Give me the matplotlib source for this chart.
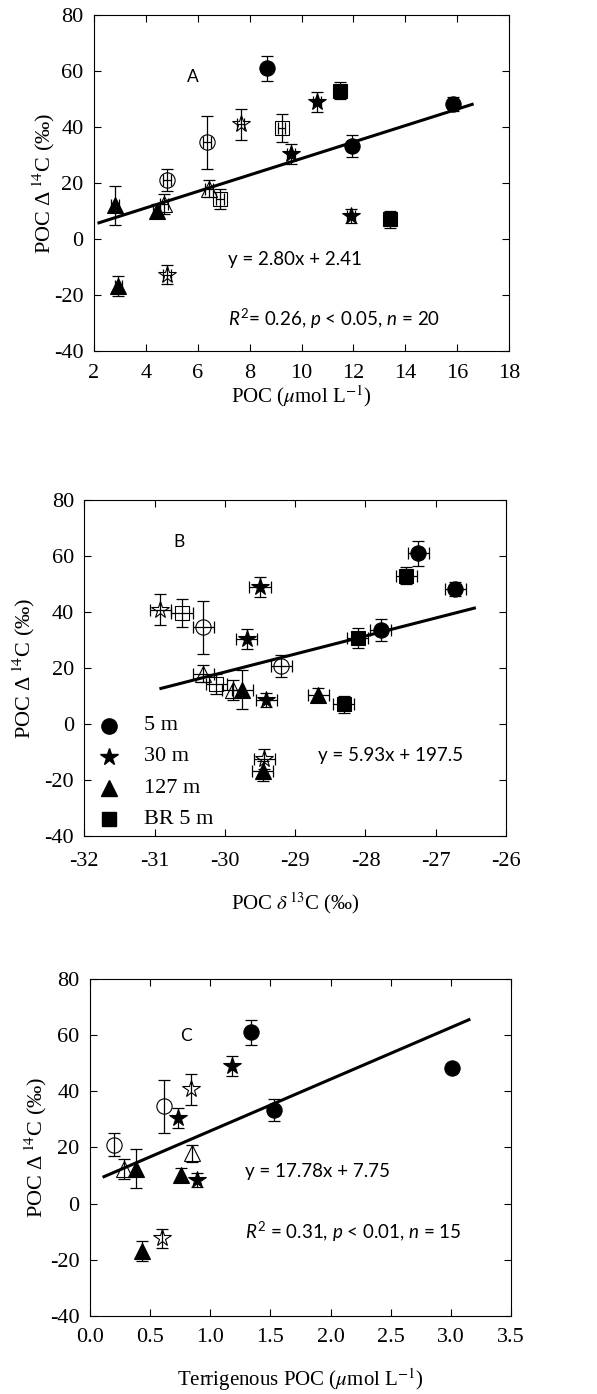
import matplotlib
matplotlib.use("Agg")
import matplotlib.pyplot as plt
from matplotlib.ticker import MultipleLocator, FormatStrFormatter

plt.rcParams['font.family'] = ['Liberation Serif', 'DejaVu Serif']
plt.rcParams['mathtext.fontset'] = 'custom'
plt.rcParams['mathtext.rm'] = 'Lato'
plt.rcParams['mathtext.it'] = 'Lato:italic'
plt.rcParams['axes.unicode_minus'] = False

# group styles: (marker, filled)
markers = {"5m": "o", "5m_o": "o", "30m": "*", "30m_o": "*",
           "127m": "^", "127m_o": "^", "BR": "s", "BR_o": "s"}
msizes = {"o": 11, "*": 13, "^": 11, "s": 10}

# Panel A: POC (umol/L) vs D14C
a_x = {"5m": [8.66, 11.96, 15.86], "5m_o": [6.36, 4.8],
       "30m": [10.61, 9.59, 11.9], "30m_o": [7.65, 4.8],
       "127m": [2.81, 4.41, 2.94], "127m_o": [4.7, 6.44],
       "BR": [11.47, 13.4], "BR_o": [9.23, 6.85]}
a_y = {"5m": [61, 33.3, 48.1], "5m_o": [34.5, 21],
       "30m": [49, 30.3, 8.3], "30m_o": [41, -12.7],
       "127m": [12, 10.1, -16.8], "127m_o": [12.5, 18],
       "BR": [53, 7.1], "BR_o": [39.7, 14.3]}
a_yerr = {"5m": [4.5, 4, 2.5], "5m_o": [9.5, 4],
          "30m": [3.5, 3.5, 2.5], "30m_o": [5.5, 3.5],
          "127m": [7, 2.5, 3.5], "127m_o": [3.5, 3],
          "BR": [3, 3], "BR_o": [5, 3.5]}
a_line_x = [2.19, 16.58]
a_line_y = [5.8, 48.1]

# Panel B: d13C vs D14C
b_x = {"5m": [-27.25, -27.78, -26.72], "5m_o": [-30.31, -29.2],
       "30m": [-29.5, -29.69, -29.41], "30m_o": [-30.92, -29.44],
       "127m": [-29.75, -28.67, -29.46], "127m_o": [-30.31, -29.89],
       "BR": [-27.42, -28.11, -28.31], "BR_o": [-30.61, -30.12]}
b_y = {"5m": [61, 33.5, 48.2], "5m_o": [34.5, 20.8],
       "30m": [49, 30.4, 8.6], "30m_o": [40.8, -12.4],
       "127m": [12.2, 10.2, -16.8], "127m_o": [18, 12.2],
       "BR": [53, 30.8, 7], "BR_o": [39.7, 14.3]}
b_yerr = {"5m": [4.5, 4, 2.5], "5m_o": [9.5, 4],
          "30m": [3.5, 3.5, 2.5], "30m_o": [5.5, 3.5],
          "127m": [7, 2.5, 3.5], "127m_o": [3, 3.5],
          "BR": [3, 3.5, 3], "BR_o": [5, 3.5]}
b_line_x = [-30.91, -26.45]
b_line_y = [12.7, 41.4]

# Panel C: terrigenous POC vs D14C
c_x = {"5m": [1.336, 1.53, 3.006], "5m_o": [0.2, 0.615],
       "30m": [1.18, 0.73, 0.887], "30m_o": [0.837, 0.6],
       "127m": [0.38, 0.76, 0.43], "127m_o": [0.285, 0.845]}
c_y = {"5m": [61, 33.4, 48.3], "5m_o": [21, 34.6],
       "30m": [49.1, 30.4, 8.4], "30m_o": [40.8, -12.4],
       "127m": [12.5, 10.2, -16.8], "127m_o": [12.3, 18]}
c_yerr = {"5m": [4.5, 4, 1.5], "5m_o": [4, 9.5],
          "30m": [3.5, 3.5, 2.5], "30m_o": [5.5, 3.5],
          "127m": [7, 2.5, 3.5], "127m_o": [3.5, 3]}
c_line_x = [0.116, 3.15]
c_line_y = [9.6, 65.5]

legend_labels = ["5 m", "30 m", "127 m", "BR 5 m"]

fig = plt.figure(figsize=(5.97, 13.94), dpi=100)
axA = fig.add_axes([0.1575, 0.7482, 0.6951, 0.2410])
axB = fig.add_axes([0.1412, 0.4003, 0.7064, 0.2410])
axC = fig.add_axes([0.1508, 0.0560, 0.7052, 0.2417])


def draw(ax, xs, ys, yerrs, xerr):
    for g in xs:
        m = markers[g]
        is_open = g.endswith("_o")
        ax.errorbar(xs[g], ys[g], yerr=yerrs[g], xerr=xerr, fmt="none",
                    ecolor="black", elinewidth=0.9, capsize=4, capthick=0.9,
                    zorder=4)
        ax.plot(xs[g], ys[g], linestyle="none", marker=m, ms=msizes[m],
                mfc="none" if is_open else "black", mec="black",
                mew=0.8, zorder=3)


def style(ax, xlim, xstep, xlabel, xpad, xlpad, ylpad):
    ax.set_xlim(*xlim)
    ax.set_ylim(-40, 80)
    ax.xaxis.set_major_locator(MultipleLocator(xstep))
    ax.yaxis.set_major_locator(MultipleLocator(20))
    ax.tick_params(direction="in", top=True, right=True, length=5,
                   width=0.8, labelsize=16)
    ax.tick_params(axis="x", pad=xpad)
    ax.tick_params(axis="y", pad=7.5)
    for s in ax.spines.values():
        s.set_linewidth(0.8)
    ax.set_ylabel("POC Δ$\\,^{14}$C (‰)", fontsize=16, math_fontfamily="stix",
                  labelpad=ylpad)
    ax.set_xlabel(xlabel, fontsize=15, math_fontfamily="stix", labelpad=xlpad)


draw(axA, a_x, a_y, a_yerr, 0.15)
axA.plot(a_line_x, a_line_y, color="black", lw=2.2, zorder=2)
style(axA, (2, 18), 2, "POC ($\\mu$mol L$^{-1}$)", 9, 0.5, -2.5)
axA.text(0.239, 0.816, "A", transform=axA.transAxes, fontsize=12.5,
         family="Lato", ha="center", va="center")
axA.text(0.323, 0.273, "y = 2.80x + 2.41", transform=axA.transAxes,
         fontsize=13.5, family="Lato", va="center")
axA.text(0.322, 0.097, "$R^{2}$= 0.26, $p$ < 0.05, $n$ = 20",
         transform=axA.transAxes, fontsize=13.5, family="Lato", va="center",
         math_fontfamily="custom")

draw(axB, b_x, b_y, b_yerr, 0.15)
axB.plot(b_line_x, b_line_y, color="black", lw=2.2, zorder=2)
style(axB, (-32, -26), 1, "POC $\\delta\\,^{13}$C (‰)", 11.5, 14, 5)
axB.text(0.2245, 0.876, "B", transform=axB.transAxes, fontsize=12.5,
         family="Lato", ha="center", va="center")
axB.text(0.555, 0.239, "y = 5.93x + 197.5", transform=axB.transAxes,
         fontsize=13.5, family="Lato", va="center")
leg_markers = ["o", "*", "^", "s"]
leg_y = [0.328, 0.236, 0.142, 0.05]
for mk, lab, yy in zip(leg_markers, legend_labels, leg_y):
    axB.plot([0.059], [yy], transform=axB.transAxes, marker=mk,
             ms=msizes[mk], color="black", linestyle="none")
    axB.text(0.142, yy, lab, transform=axB.transAxes, fontsize=16,
             va="center")

draw(axC, c_x, c_y, c_yerr, None)
axC.plot(c_line_x, c_line_y, color="black", lw=2.2, zorder=2)
style(axC, (0, 3.5), 0.5, "Terrigenous POC ($\\mu$mol L$^{-1}$)", 8.6, 14, 1)
axC.xaxis.set_major_formatter(FormatStrFormatter("%.1f"))
axC.text(0.228, 0.831, "C", transform=axC.transAxes, fontsize=12.5,
         family="Lato", ha="center", va="center")
axC.text(0.368, 0.428, "y = 17.78x + 7.75", transform=axC.transAxes,
         fontsize=13.5, family="Lato", va="center")
axC.text(0.368, 0.25, "$R^{2}$ = 0.31, $p$ < 0.01, $n$ = 15",
         transform=axC.transAxes, fontsize=13.5, family="Lato", va="center",
         math_fontfamily="custom")

fig.savefig("out.png", dpi=100)
